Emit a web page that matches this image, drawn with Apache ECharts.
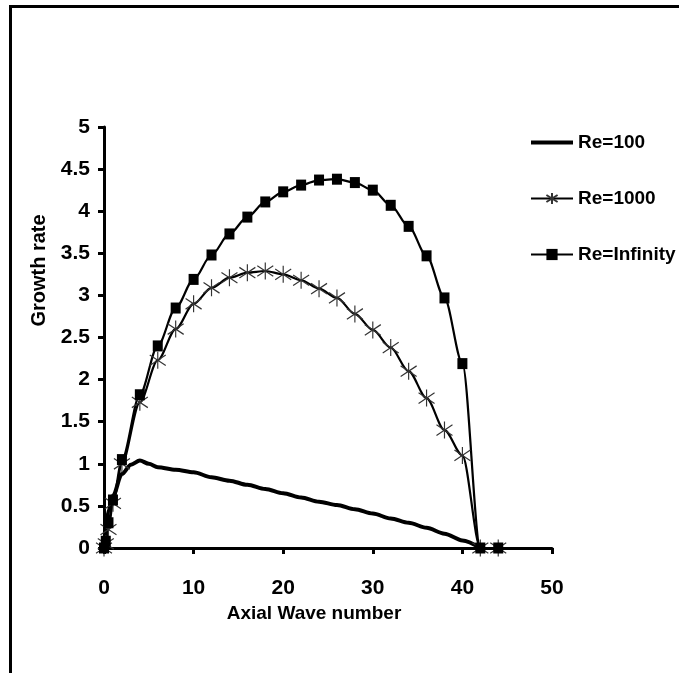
<!DOCTYPE html>
<html>
<head>
<meta charset="utf-8">
<script src="https://cdn.jsdelivr.net/npm/echarts@6/dist/echarts.min.js"></script>
<style>html,body{margin:0;padding:0;background:#fff}#c{width:679px;height:673px}</style>
</head>
<body>
<div id="c"></div>
<script>
// ---- data ----
const seriesNames = ['Re=100', 'Re=1000', 'Re=Infinity'];
const xRe100 = [0, 0.5, 1, 2, 3, 4, 5, 6, 8, 10, 12, 14, 16, 18, 20, 22, 24, 26, 28, 30, 32, 34, 36, 38, 40, 42];
const yRe100 = [0, 0.45, 0.62, 0.88, 0.99, 1.04, 1.0, 0.96, 0.93, 0.9, 0.84, 0.8, 0.75, 0.7, 0.65, 0.6, 0.55, 0.51, 0.46, 0.41, 0.35, 0.3, 0.24, 0.17, 0.09, 0];
const xRe1000 = [0, 0.2, 0.5, 1, 2, 4, 6, 8, 10, 12, 14, 16, 18, 20, 22, 24, 26, 28, 30, 32, 34, 36, 38, 40, 42, 44];
const yRe1000 = [0, 0.05, 0.22, 0.53, 1.0, 1.73, 2.23, 2.6, 2.9, 3.09, 3.21, 3.27, 3.29, 3.25, 3.18, 3.08, 2.97, 2.78, 2.59, 2.38, 2.1, 1.78, 1.4, 1.1, 0, 0];
const xReInf = [0, 0.2, 0.5, 1, 2, 4, 6, 8, 10, 12, 14, 16, 18, 20, 22, 24, 26, 28, 30, 32, 34, 36, 38, 40, 42, 44];
const yReInf = [0, 0.08, 0.3, 0.57, 1.05, 1.82, 2.4, 2.85, 3.19, 3.48, 3.73, 3.93, 4.11, 4.23, 4.31, 4.37, 4.38, 4.34, 4.25, 4.07, 3.82, 3.47, 2.97, 2.19, 0, 0];
const xAxisTitle = 'Axial Wave number';
const yAxisTitle = 'Growth rate';

const zip = (xs, ys) => xs.map((x, i) => [x, ys[i]]);
const font = '"Liberation Sans Narrow", "Arial Narrow", "Liberation Sans", Arial, sans-serif';
const asterisk = 'path://M8,0L8,16M1,3L15,13M1,13L15,3';

const chart = echarts.init(document.getElementById('c'), null, {renderer: 'canvas'});
chart.setOption({
  animation: false,
  backgroundColor: '#fff',
  graphic: [{
    type: 'rect', silent: true,
    shape: {x: 10.5, y: 6.5, width: 720, height: 720},
    style: {fill: 'none', stroke: '#000', lineWidth: 3}
  }],
  grid: {left: 104, right: 127, top: 127, bottom: 125, containLabel: false},
  legend: {
    orient: 'vertical', left: 524, top: 128, itemWidth: 42, itemHeight: 14, itemGap: 37,
    data: [
      {name: seriesNames[0], itemStyle: {opacity: 0}, lineStyle: {width: 4}},
      {name: seriesNames[1]},
      {name: seriesNames[2]}
    ],
    textStyle: {fontFamily: font, fontWeight: 'bold', fontSize: 19, color: '#000'}
  },
  xAxis: {
    type: 'value', min: 0, max: 50, interval: 10,
    name: xAxisTitle, nameLocation: 'middle', nameGap: 36,
    nameTextStyle: {fontFamily: font, fontWeight: 'bold', fontSize: 19, color: '#000', padding: [0, 28, 0, 0]},
    axisLine: {show: true, onZero: false, lineStyle: {color: '#000', width: 3}},
    axisTick: {show: true, length: 6, lineStyle: {color: '#000', width: 3}},
    axisLabel: {margin: 30, fontFamily: font, fontWeight: 'bold', fontSize: 21, color: '#000'},
    splitLine: {show: false}
  },
  yAxis: {
    type: 'value', min: 0, max: 5, interval: 0.5,
    name: yAxisTitle, nameLocation: 'middle', nameGap: 47, nameRotate: 90,
    nameTextStyle: {fontFamily: font, fontWeight: 'bold', fontSize: 20, color: '#000', padding: [0, 0, 0, 134]},
    axisLine: {show: true, lineStyle: {color: '#000', width: 3}},
    axisTick: {show: true, length: 6, lineStyle: {color: '#000', width: 3}},
    axisLabel: {margin: 14, fontFamily: font, fontWeight: 'bold', fontSize: 21, color: '#000'},
    splitLine: {show: false}
  },
  series: [
    {
      name: seriesNames[0], type: 'line', data: zip(xRe100, yRe100),
      smooth: 0.3, smoothMonotone: 'x', symbol: 'none', clip: false,
      itemStyle: {color: '#000'},
      lineStyle: {color: '#000', width: 4}
    },
    {
      name: seriesNames[1], type: 'line', data: zip(xRe1000, yRe1000),
      smooth: 0.3, smoothMonotone: 'x', symbol: asterisk, symbolSize: [16, 17], showAllSymbol: true, clip: false,
      itemStyle: {color: 'rgba(0,0,0,0)', borderColor: '#333', borderWidth: 1.2},
      lineStyle: {color: '#000', width: 2.2}
    },
    {
      name: seriesNames[2], type: 'line', data: zip(xReInf, yReInf),
      smooth: 0.3, smoothMonotone: 'x', symbol: 'rect', symbolSize: [10, 11], showAllSymbol: true, clip: false,
      itemStyle: {color: '#000'},
      lineStyle: {color: '#000', width: 2.2}
    }
  ]
});
</script>
</body>
</html>
